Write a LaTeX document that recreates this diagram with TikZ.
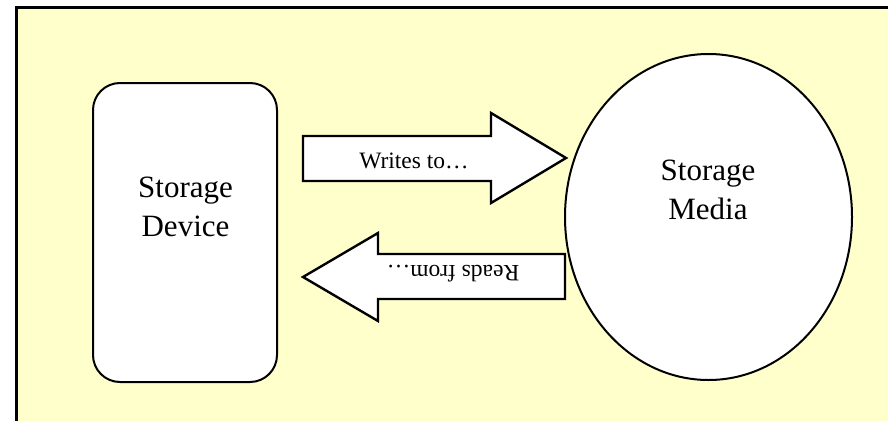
\documentclass[tikz,border=0pt]{standalone}
\usepackage{fontspec}
\setmainfont{Liberation Serif}
\definecolor{paleyellow}{HTML}{FFFFCC}
\tikzset{
  shapebox/.style={draw=black, fill=white, line width=2pt},
  blockarrow/.style={draw=black, fill=white, line width=2.4pt, line join=miter},
  bigtext/.style={font=\fontsize{31}{39}\selectfont, align=center, inner sep=0pt},
  smalltext/.style={font=\fontsize{23.5}{28}\selectfont, inner sep=0pt, anchor=base},
}
\begin{document}
\begin{tikzpicture}[x=1pt,y=-1pt]
  \useasboundingbox (0,0) rectangle (888,420);
  \clip (0,0) rectangle (888,420);
  \fill[white] (0,0) rectangle (888,420);
  % panel background with its border
  \draw[fill=paleyellow, line width=3pt] (16,8) rectangle (900,430);

  % storage device
  \draw[shapebox, rounded corners=27pt] (93,83) rectangle (277,382);
  \node[bigtext] (device) at (185.5,206.5) {Storage\\Device};

  % storage media
  \draw[shapebox] (708.5,217) ellipse [x radius=143.5, y radius=163];
  \node[bigtext] (media) at (708,190) {Storage\\Media};

  % writes arrow (pointing right)
  \draw[blockarrow] (303,136) -- (491,136) -- (491,113) -- (566,158)
        -- (491,203) -- (491,181) -- (303,181) -- cycle;
  \node[smalltext] (writes) at (414,168) {Writes to…};

  % reads arrow (pointing left)
  \draw[blockarrow] (565,254) -- (378,254) -- (378,233) -- (303,277)
        -- (378,321) -- (378,299) -- (565,299) -- cycle;
  \node[smalltext, rotate=180] (reads) at (453,265.5) {Reads from…};
\end{tikzpicture}
\end{document}
